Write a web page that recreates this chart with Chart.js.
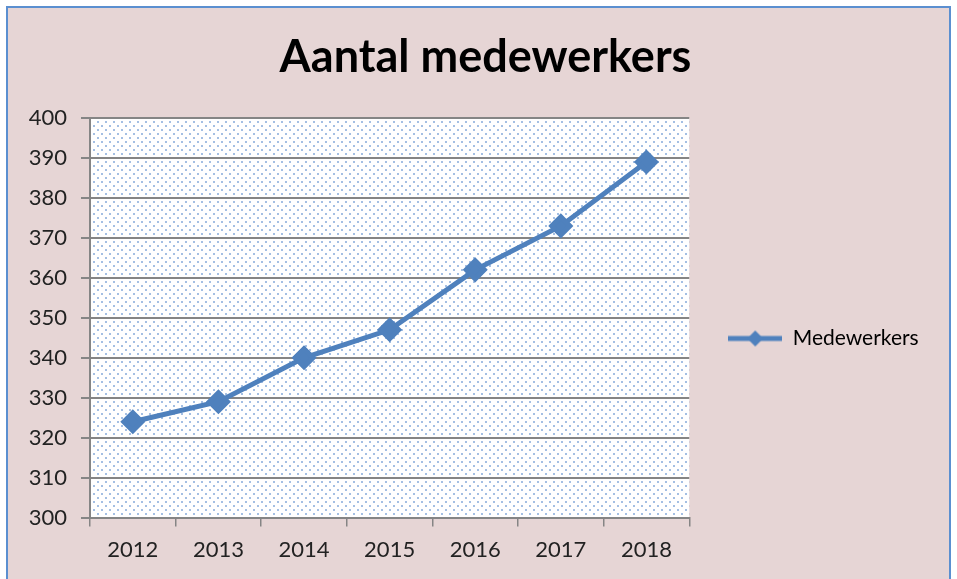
<!DOCTYPE html>
<html>
<head>
<meta charset="utf-8">
<script src="https://cdn.jsdelivr.net/npm/chart.js@4.4.1/dist/chart.umd.min.js"></script>
<style>
  html, body { margin: 0; padding: 0; background: #ffffff; }
  #wrap { width: 957px; height: 579px; }
</style>
</head>
<body>
<div id="wrap"><canvas id="chart" width="957" height="579"></canvas></div>
<script>
var years = ['2012', '2013', '2014', '2015', '2016', '2017', '2018'];
var medewerkers = [324, 329, 340, 347, 362, 373, 389];
var yMin = 300, yMax = 400, yStep = 10;

var lineBlue = '#4f81bd';
var gridGray = '#858585';

// dotted fill for the plot area
var pat = document.createElement('canvas');
pat.width = 8; pat.height = 8;
var pc = pat.getContext('2d');
pc.fillStyle = '#ffffff';
pc.fillRect(0, 0, 8, 8);
pc.fillStyle = '#a4bfe3';
pc.fillRect(1, 1, 2, 2);
pc.fillRect(5, 5, 2, 2);

// legend symbol: short line with a diamond
var sym = document.createElement('canvas');
sym.width = 54; sym.height = 18;
var sc = sym.getContext('2d');
sc.strokeStyle = lineBlue;
sc.lineWidth = 5;
sc.beginPath(); sc.moveTo(0, 9); sc.lineTo(54, 9); sc.stroke();
sc.fillStyle = lineBlue;
sc.beginPath(); sc.moveTo(27, 1); sc.lineTo(35, 9); sc.lineTo(27, 17); sc.lineTo(19, 9); sc.closePath(); sc.fill();

var backgroundPlugin = {
  id: 'bg',
  afterLayout: function (chart) {
    // title in the original sits centred over the plot, legend level with the middle of the plot
    if (chart.titleBlock) {
      chart.titleBlock.left += 26;
      chart.titleBlock.right += 26;
    }
    if (chart.legend) {
      chart.legend.top += 37;
      chart.legend.bottom += 37;
      chart.legend.left += 3;
      chart.legend.right += 3;
    }
  },
  beforeDraw: function (chart) {
    var c = chart.ctx, a = chart.chartArea;
    c.save();
    c.fillStyle = '#ffffff';
    c.fillRect(0, 0, chart.width, chart.height);
    c.fillStyle = '#e6d5d5';
    c.fillRect(7, 7, chart.width - 14, chart.height);
    c.strokeStyle = '#5b8fd0';
    c.lineWidth = 2;
    c.strokeRect(7, 7, chart.width - 14, chart.height + 10);
    c.fillStyle = c.createPattern(pat, 'repeat');
    c.fillRect(a.left, a.top, a.right - a.left, a.bottom - a.top);
    c.restore();
  }
};

new Chart(document.getElementById('chart').getContext('2d'), {
  type: 'line',
  data: {
    labels: years,
    datasets: [{
      label: 'Medewerkers',
      data: medewerkers,
      borderColor: lineBlue,
      backgroundColor: lineBlue,
      borderWidth: 5,
      pointStyle: 'rectRot',
      pointRadius: 9,
      pointHoverRadius: 9,
      fill: false,
      tension: 0
    }]
  },
  options: {
    responsive: false,
    animation: false,
    layout: { padding: { top: 30, right: 38, left: 0, bottom: 6 } },
    plugins: {
      title: {
        display: true,
        text: 'Aantal medewerkers',
        color: '#000000',
        font: { family: 'Lato', size: 45, weight: 'bold' },
        padding: { top: 0, bottom: 34 }
      },
      legend: {
        position: 'right',
        labels: {
          color: '#222222',
          font: { family: 'Lato', size: 21 },
          usePointStyle: true,
          pointStyleWidth: 54,
          boxHeight: 18,
          padding: 36,
          generateLabels: function (chart) {
            return [{ text: 'Medewerkers', pointStyle: sym, fillStyle: lineBlue, strokeStyle: lineBlue, lineWidth: 0, datasetIndex: 0 }];
          }
        }
      },
      tooltip: { enabled: false }
    },
    scales: {
      x: {
        offset: true,
        grid: { offset: true, drawOnChartArea: false, drawTicks: true, tickLength: 9, color: gridGray, lineWidth: 1.5 },
        border: { color: gridGray, width: 2 },
        ticks: { color: '#222222', font: { family: 'Lato', size: 22 }, padding: 10 }
      },
      y: {
        min: yMin,
        max: yMax,
        ticks: { stepSize: yStep, color: '#222222', font: { family: 'Lato', size: 22 }, padding: 14 },
        grid: { color: gridGray, lineWidth: 2, tickLength: 9 },
        border: { color: gridGray, width: 2 },
        afterFit: function (scale) { scale.width = 90; }
      }
    }
  },
  plugins: [backgroundPlugin]
});
</script>
</body>
</html>
